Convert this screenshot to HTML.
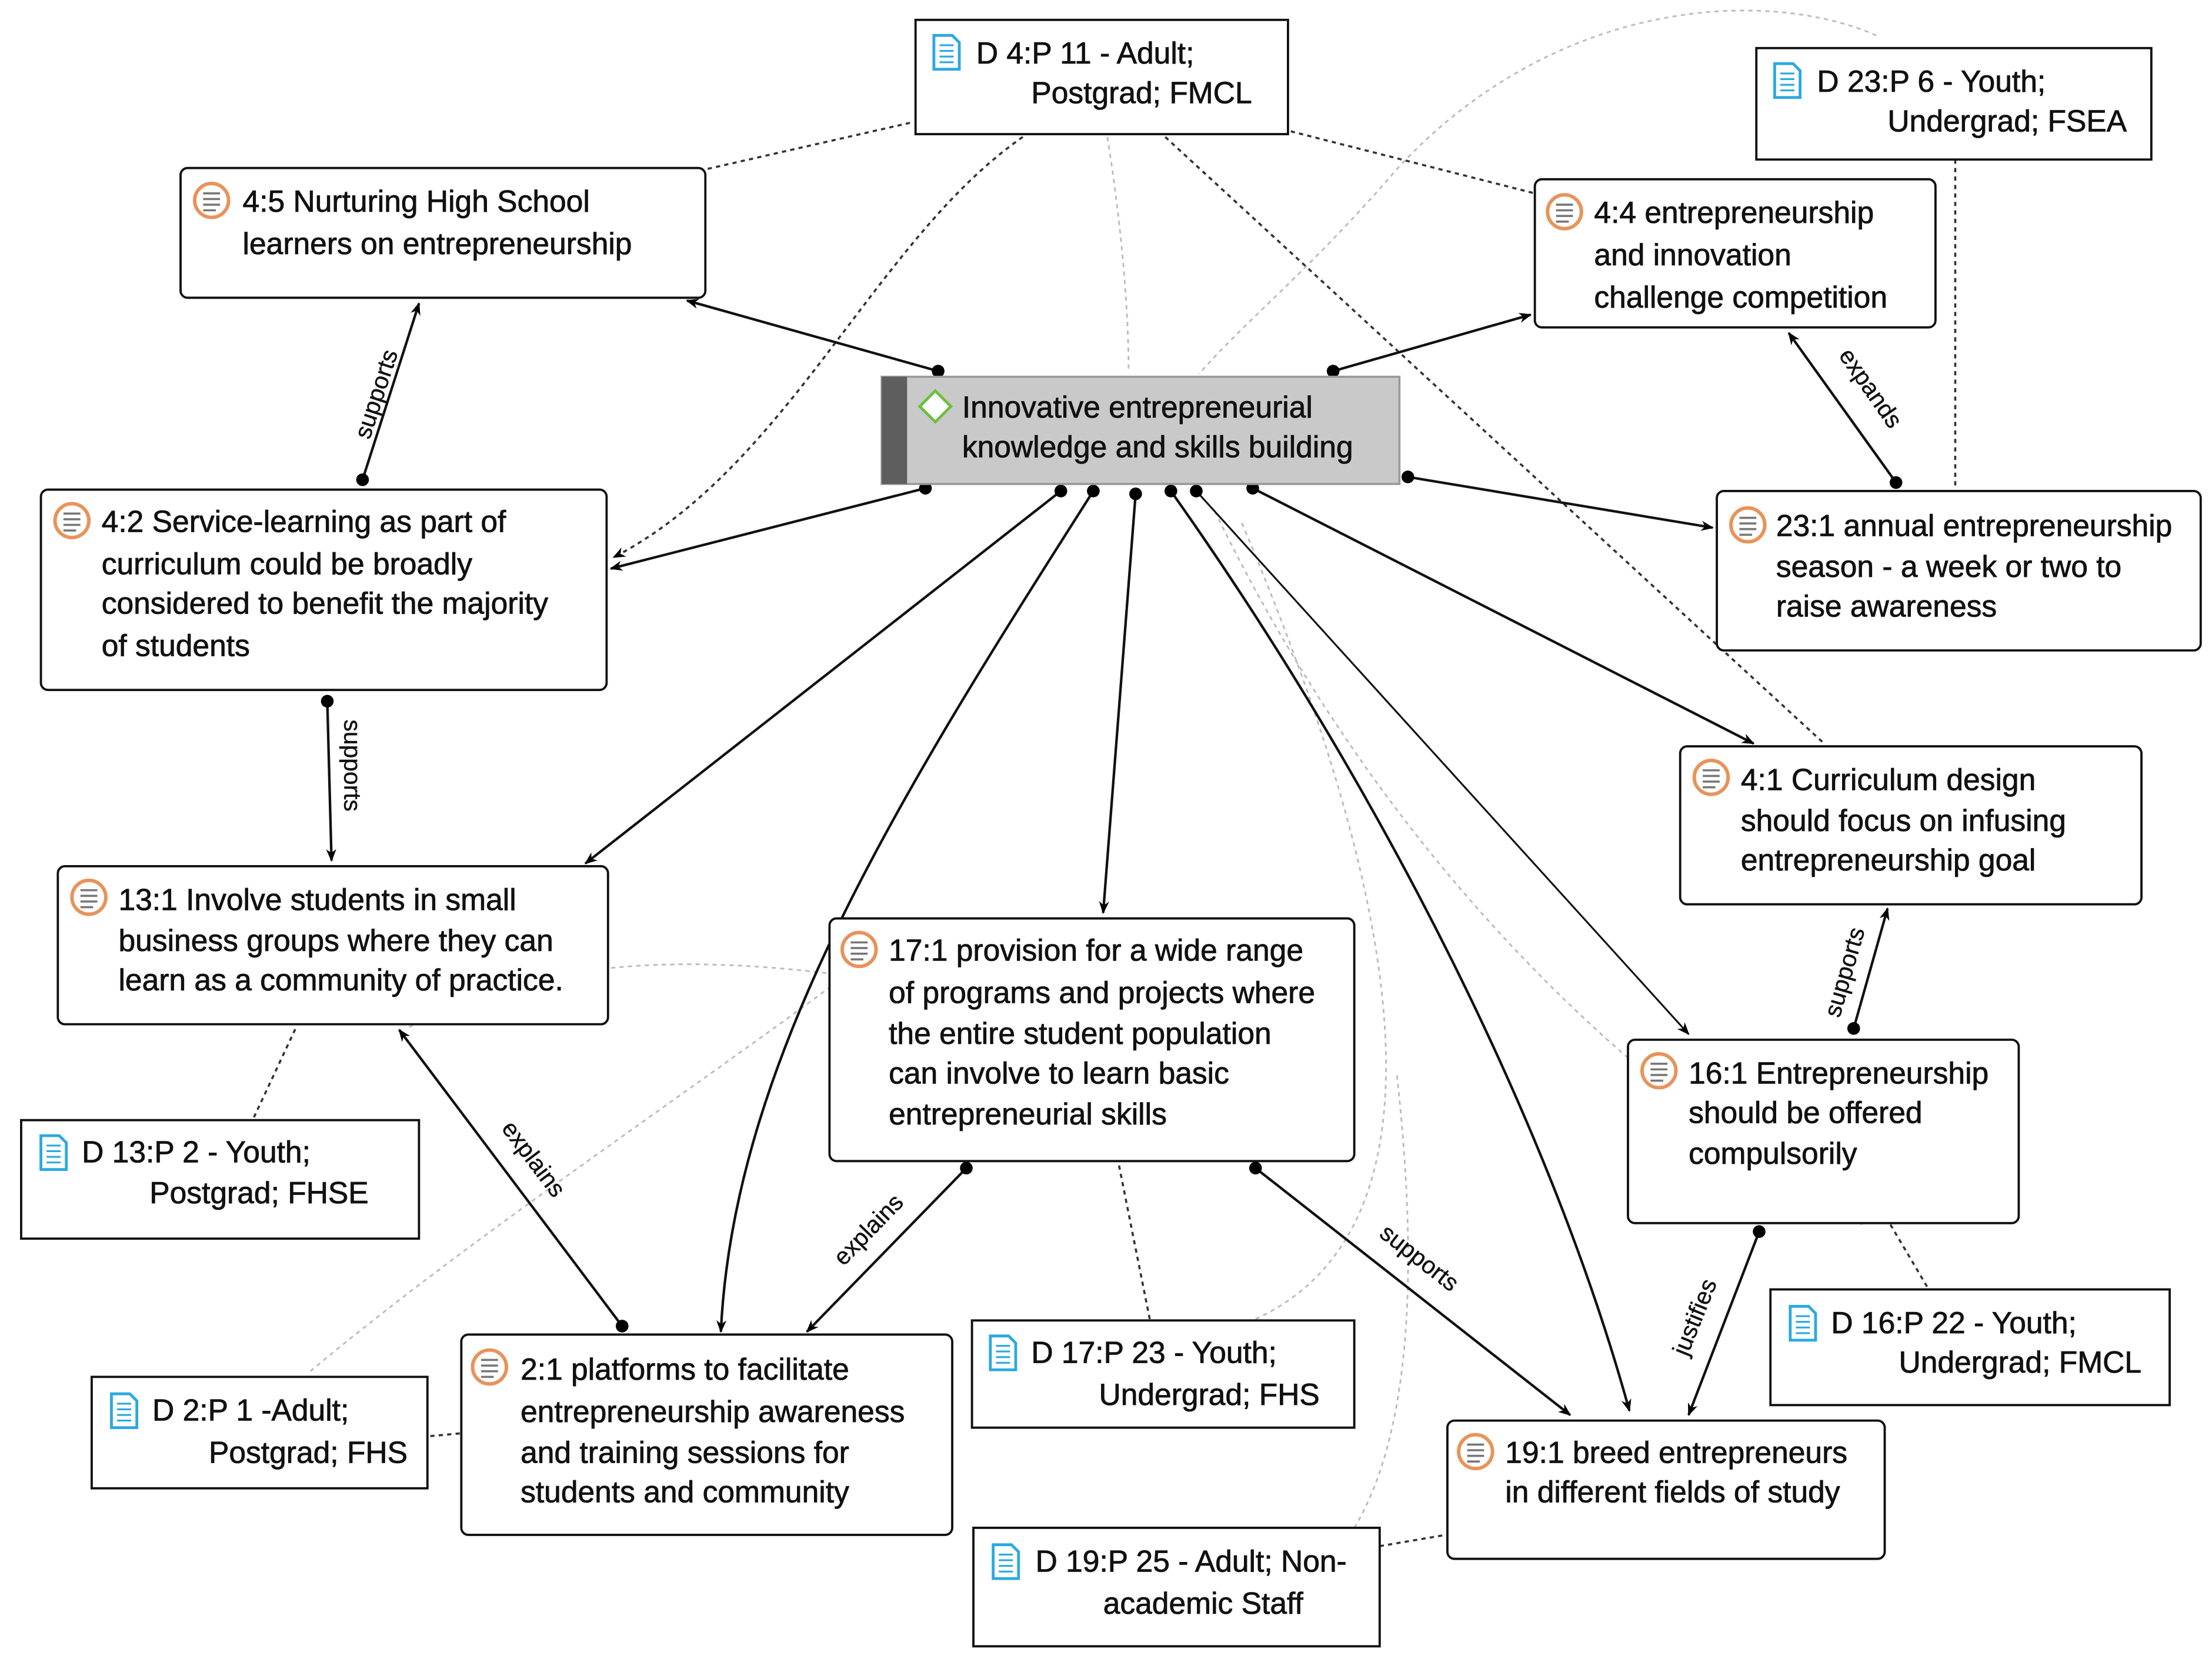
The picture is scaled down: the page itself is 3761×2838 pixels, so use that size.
<!DOCTYPE html>
<html><head><meta charset="utf-8"><style>
html,body{margin:0;padding:0;background:#fff;}
svg{display:block;}
text{font-family:"Liberation Sans",sans-serif;font-size:21.5px;fill:#111;stroke:#111;stroke-width:0.35px;}
text.el{font-size:17px;stroke-width:0.2px;}
</style></head><body>
<svg width="3761" height="2838" viewBox="0 0 1568 1183" xmlns="http://www.w3.org/2000/svg">
<defs>
<marker id="a" viewBox="0 0 10 10" refX="9" refY="5" markerWidth="9" markerHeight="9" orient="auto-start-reverse" markerUnits="userSpaceOnUse"><path d="M0,1 L10,5 L0,9 L3,5 z" fill="#000"/></marker>
<marker id="d" viewBox="0 0 10 10" refX="5" refY="5" markerWidth="10" markerHeight="10" markerUnits="userSpaceOnUse"><circle cx="5" cy="5" r="4.5" fill="#000"/></marker>
<g id="q"><circle cx="0" cy="0" r="12" fill="#fff" stroke="#e8935a" stroke-width="2.5"/><path d="M-6,-5h12M-6,-1h12M-6,3h12M-6,7h9" stroke="#777" stroke-width="1.5"/></g>
<g id="f"><path d="M-9,-12h13l5,5v19h-18z" fill="#fff" stroke="#2aa9e0" stroke-width="2"/><path d="M-5,-5h10M-5,-1h10M-5,3h10M-5,7h10" stroke="#2aa9e0" stroke-width="1.3"/></g>
</defs>
<g fill="none" stroke="#bbb" stroke-width="1.2" stroke-dasharray="3,3">
<path d="M785,97 C795,160 800,220 800,262"/>
<path d="M1330,25 C1250,-10 1100,0 990,120 C930,190 880,230 850,265"/>
<path d="M220,972 C330,880 480,780 588,700"/>
<path d="M290,728 C350,700 420,670 588,690"/>
<path d="M890,935 C1010,880 1020,700 880,370"/>
<path d="M960,1083 C1010,1000 1000,850 990,760"/>
<path d="M1320,868 C1200,800 1000,650 860,360"/>
</g>
<g fill="none" stroke="#333" stroke-width="1.5" stroke-dasharray="3,3">
<path d="M645,87 L500,120"/>
<path d="M915,93 L1088,137"/>
<path d="M725,97 C620,170 560,330 435,395" marker-end="url(#a)"/>
<path d="M826,97 L1293,527"/>
<path d="M1386,113 L1386,347"/>
<path d="M180,792 L210,728"/>
<path d="M1366,912 L1340,868"/>
<path d="M815,935 L793,825"/>
<path d="M305,1018 L327,1016"/>
<path d="M978,1096 L1025,1088"/>
</g>
<g fill="none" stroke="#111" stroke-width="1.8" marker-start="url(#d)" marker-end="url(#a)">
<path d="M665,263 L487,213"/>
<path d="M945,263 L1085,223"/>
<path d="M998,338 L1214,374"/>
<path d="M656,346 L433,403"/>
<path d="M752,348 L415,612"/>
<path d="M775,348 C640,560 520,750 511,944"/>
<path d="M805,350 L782,647"/>
<path d="M830,348 C980,560 1100,800 1155,1000"/>
<path d="M848,348 L1197,733" stroke-width="1.3"/>
<path d="M888,346 L1243,527"/>
<path d="M257,340 L297,215"/>
<path d="M232,497 L235,610"/>
<path d="M441,940 L283,730"/>
<path d="M685,828 L572,944"/>
<path d="M890,828 L1113,1003"/>
<path d="M1344,342 L1268,236"/>
<path d="M1314,729 L1338,644"/>
<path d="M1247,873 L1197,1003"/>
</g>
<text class="el" transform="translate(262,312) rotate(-72)">supports</text>
<text class="el" transform="translate(244,510) rotate(90)">supports</text>
<text class="el" transform="translate(355,800) rotate(53)">explains</text>
<text class="el" transform="translate(598,898) rotate(-46)">explains</text>
<text class="el" transform="translate(977,876) rotate(38)">supports</text>
<text class="el" transform="translate(1303,252) rotate(55)">expands</text>
<text class="el" transform="translate(1304,722) rotate(-74)">supports</text>
<text class="el" transform="translate(1196,962) rotate(-68)">justifies</text>
<g fill="#fff" stroke="#111" stroke-width="1.6">
<rect x="649" y="14" width="264" height="81"/>
<rect x="1245" y="34" width="280" height="79"/>
<rect x="128" y="119" width="372" height="92" rx="5"/>
<rect x="1088" y="127" width="284" height="105" rx="5"/>
<rect x="29" y="347" width="401" height="142" rx="5"/>
<rect x="1217" y="348" width="343" height="113" rx="5"/>
<rect x="1191" y="529" width="327" height="112" rx="5"/>
<rect x="41" y="614" width="390" height="112" rx="5"/>
<rect x="588" y="651" width="372" height="172" rx="5"/>
<rect x="1154" y="737" width="277" height="130" rx="5"/>
<rect x="15" y="794" width="282" height="84"/>
<rect x="1255" y="914" width="283" height="82"/>
<rect x="689" y="936" width="271" height="76"/>
<rect x="65" y="976" width="238" height="79"/>
<rect x="327" y="946" width="348" height="142" rx="5"/>
<rect x="1026" y="1007" width="310" height="98" rx="5"/>
<rect x="690" y="1083" width="288" height="84"/>
</g>
<rect x="625" y="267" width="367" height="76" fill="#c9c9c9" stroke="#999" stroke-width="1.5"/>
<rect x="625" y="267" width="18" height="76" fill="#5e5e5e"/>
<path d="M663,277 L674,288 L663,299 L652,288 z" fill="#fff" stroke="#6cbf3c" stroke-width="2"/>
<text x="682" y="296">Innovative entrepreneurial</text>
<text x="682" y="324">knowledge and skills building</text>
<use href="#f" x="671" y="37"/><use href="#f" x="1267" y="57"/>
<use href="#f" x="38" y="817"/><use href="#f" x="1278" y="938"/>
<use href="#f" x="711" y="959"/><use href="#f" x="88" y="1000"/><use href="#f" x="713" y="1107"/>
<use href="#q" x="150" y="142"/><use href="#q" x="1109" y="150"/><use href="#q" x="51" y="369"/>
<use href="#q" x="1239" y="372"/><use href="#q" x="1213" y="551"/><use href="#q" x="63" y="636"/>
<use href="#q" x="609" y="673"/><use href="#q" x="1176" y="759"/><use href="#q" x="347" y="969"/><use href="#q" x="1046" y="1029"/>
<text x="692" y="45">D 4:P 11 - Adult;</text><text x="731" y="73">Postgrad; FMCL</text>
<text x="1288" y="65">D 23:P 6 - Youth;</text><text x="1338" y="93">Undergrad; FSEA</text>
<text x="172" y="150">4:5 Nurturing High School</text><text x="172" y="180">learners on entrepreneurship</text>
<text x="1130" y="158">4:4 entrepreneurship</text><text x="1130" y="188">and innovation</text><text x="1130" y="218">challenge competition</text>
<text x="72" y="377">4:2 Service-learning as part of</text><text x="72" y="407">curriculum could be broadly</text><text x="72" y="435">considered to benefit the majority</text><text x="72" y="465">of students</text>
<text x="1259" y="380">23:1 annual entrepreneurship</text><text x="1259" y="409">season - a week or two to</text><text x="1259" y="437">raise awareness</text>
<text x="1234" y="560">4:1 Curriculum design</text><text x="1234" y="589">should focus on infusing</text><text x="1234" y="617">entrepreneurship goal</text>
<text x="84" y="645">13:1 Involve students in small</text><text x="84" y="674">business groups where they can</text><text x="84" y="702">learn as a community of practice.</text>
<text x="630" y="681">17:1 provision for  a wide range</text><text x="630" y="711">of programs and projects where</text><text x="630" y="740">the entire student population</text><text x="630" y="768">can involve to learn basic</text><text x="630" y="797">entrepreneurial skills</text>
<text x="1197" y="768">16:1 Entrepreneurship</text><text x="1197" y="796">should be offered</text><text x="1197" y="825">compulsorily</text>
<text x="58" y="824">D 13:P 2 - Youth;</text><text x="106" y="853">Postgrad; FHSE</text>
<text x="1298" y="945">D 16:P 22 - Youth;</text><text x="1346" y="973">Undergrad; FMCL</text>
<text x="731" y="966">D 17:P 23 - Youth;</text><text x="779" y="996">Undergrad; FHS</text>
<text x="108" y="1007">D 2:P 1 -Adult;</text><text x="148" y="1037">Postgrad; FHS</text>
<text x="369" y="978">2:1 platforms to facilitate</text><text x="369" y="1008">entrepreneurship awareness</text><text x="369" y="1037">and training sessions for</text><text x="369" y="1065">students and community</text>
<text x="1067" y="1037">19:1 breed entrepreneurs</text><text x="1067" y="1065">in different fields of study</text>
<text x="734" y="1114">D 19:P 25 - Adult; Non-</text><text x="782" y="1144">academic Staff</text>
</svg>
</body></html>
